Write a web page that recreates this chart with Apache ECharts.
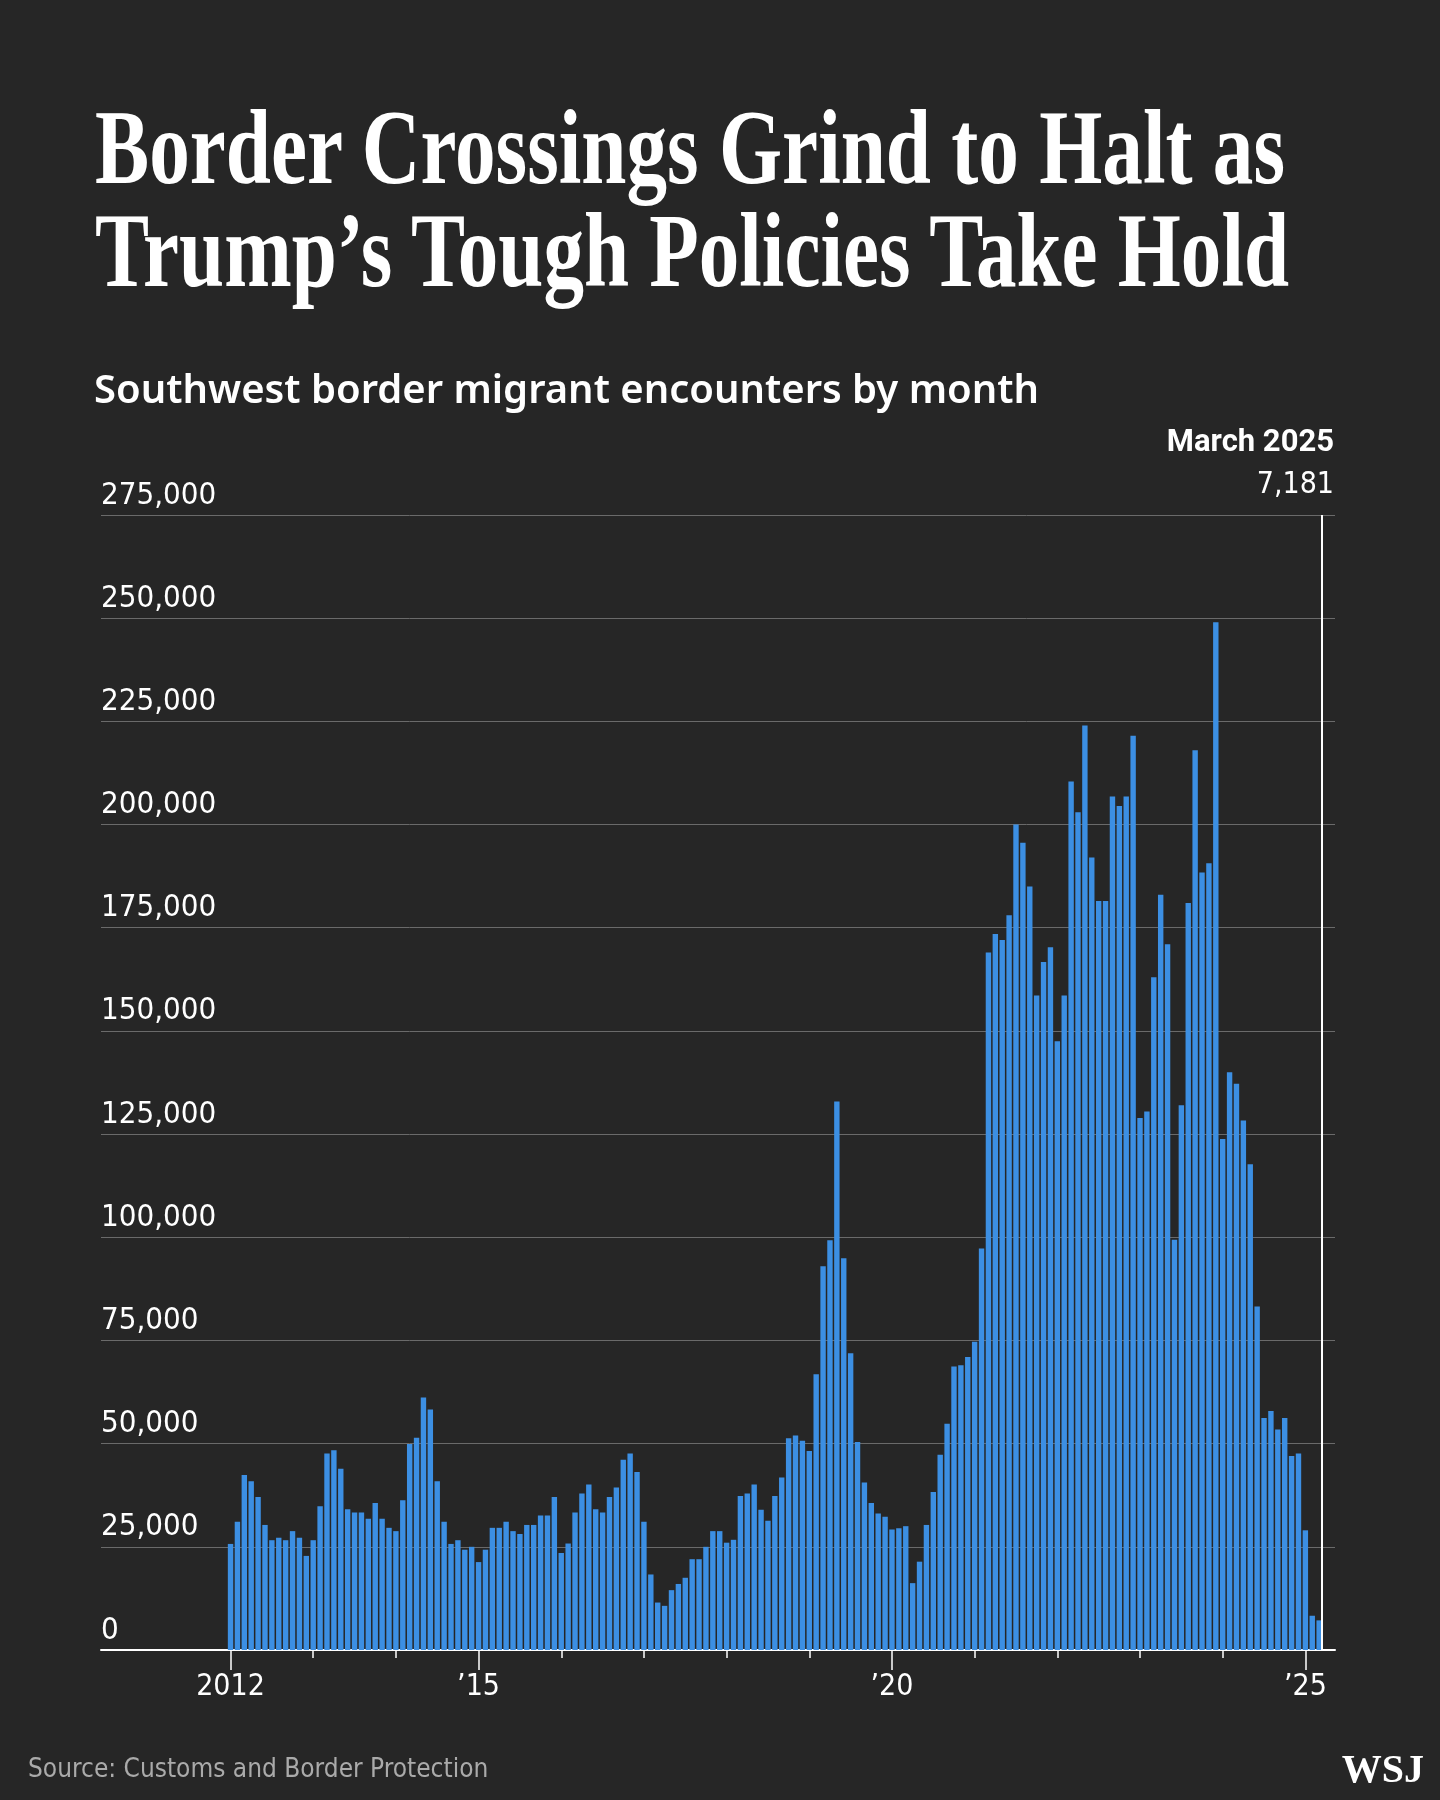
<!DOCTYPE html>
<html><head><meta charset="utf-8">
<script src="https://cdn.jsdelivr.net/npm/echarts@6/dist/echarts.min.js"></script>
<style>
html,body{margin:0;padding:0;background:#262626;}
#wrap{position:relative;width:1440px;height:1800px;background:#262626;overflow:hidden;}
.t{position:absolute;left:95px;color:#fff;font-family:"Liberation Serif","DejaVu Serif",serif;font-weight:bold;font-size:106px;line-height:1;white-space:nowrap;transform-origin:0 0;}
#sub{position:absolute;left:94px;top:360px;color:#fff;font-family:"Noto Sans",sans-serif;font-weight:600;font-size:40px;white-space:nowrap;}
#chart{position:absolute;left:0;top:0;width:1440px;height:1800px;}
</style></head><body>
<div id="wrap">
<div id="chart"></div>
<div class="t" id="t1" style="top:95px">Border Crossings Grind to Halt as</div>
<div class="t" id="t2" style="top:198px">Trump’s Tough Policies Take Hold</div>
<div id="sub">Southwest border migrant encounters by month</div>
</div>
<script>
// Monthly values (thousands), Jan 2012 .. Mar 2025
const values2012 = [25.7,31.1,42.4,40.9,37.1,30.3,26.6,27.2,26.6,28.8,27.2,22.8];
const values2013 = [26.6,34.8,47.6,48.4,43.9,34.1,33.3,33.3,31.8,35.6,31.8,29.6];
const values2014 = [28.8,36.3,49.9,51.4,61.2,58.3,40.9,31.1,25.7,26.6,24.3,25.0];
const values2015 = [21.3,24.3,29.6,29.6,31.1,28.8,28.1,30.3,30.3,32.6,32.6,37.1];
const values2016 = [23.5,25.8,33.3,37.9,40.1,34.1,33.3,37.1,39.4,46.1,47.6,43.1];
const values2017 = [31.1,18.3,11.5,10.7,14.5,16.0,17.5,22.0,22.0,25.0,28.8,28.8];
const values2018 = [26.0,26.7,37.3,37.9,40.1,34.0,31.3,37.3,41.8,51.3,52.0,50.7];
const values2019 = [48.2,66.8,93.0,99.3,132.9,94.9,71.9,50.4,40.6,35.6,33.1,32.3];
const values2020 = [29.2,29.5,30.0,16.2,21.4,30.3,38.3,47.3,54.8,68.7,69.0,71.0];
const values2021 = [74.7,97.3,169.0,173.5,172.0,178.0,200.0,195.6,185.0,158.6,166.7,170.3];
const values2022 = [147.5,158.6,210.4,203.0,224.0,192.0,181.5,181.5,206.8,204.5,206.8,221.5];
const values2023 = [128.9,130.5,163.0,183.0,171.0,99.4,132.0,181.0,218.0,188.4,190.6,249.0];
const values2024 = [123.8,140.0,137.2,128.3,117.7,83.2,56.2,57.9,53.4,56.2,47.0,47.6];
const values2025 = [29.0,8.3,7.181];
const xLabelYears = {0:'2012',36:'’15',96:'’20',156:'’25'};

const all = [].concat(values2012,values2013,values2014,values2015,values2016,values2017,values2018,values2019,values2020,values2021,values2022,values2023,values2024,values2025);
const data = all.map((v,i)=>[i, Math.round(v*1000)]);
const yearTicks = []; for(let m=0;m<=156;m+=12) yearTicks.push(m);
const lastIdx = all.length-1;

['t1','t2'].forEach((id,k)=>{const el=document.getElementById(id);const w=el.getBoundingClientRect().width;const target=k?1194:1190;el.style.transform='scaleX('+(target/w)+')';});

const chart = echarts.init(document.getElementById('chart'));
const lf = '"DejaVu Sans Condensed","Liberation Sans Narrow",sans-serif';
chart.setOption({
  backgroundColor:'#262626',
  animation:false,
  grid:{left:101,right:105,top:515,bottom:150},
  xAxis:[{
    type:'value',min:-18.8,max:160.3,
    axisLine:{show:true,lineStyle:{color:'#fff',width:2}},
    splitLine:{show:false},
    axisTick:{show:true,customValues:yearTicks,length:8,lineStyle:{color:'#fff',width:1.5}},
    axisLabel:{show:true,customValues:Object.keys(xLabelYears).map(Number),formatter:v=>xLabelYears[v]||'',color:'#fff',fontFamily:lf,fontSize:30,margin:22}
  },{
    type:'value',min:-18.8,max:160.3,position:'bottom',
    axisLine:{show:false},splitLine:{show:false},
    axisTick:{show:true,customValues:Object.keys(xLabelYears).map(Number),length:20,lineStyle:{color:'#fff',width:1.5}},
    axisLabel:{show:false}
  }],
  yAxis:{
    type:'value',min:0,max:275000,interval:25000,
    axisLine:{show:false},axisTick:{show:false},
    splitLine:{lineStyle:{color:'#6a6a6a',width:1}},
    axisLabel:{inside:true,margin:0,verticalAlign:'bottom',padding:[0,0,4,0],color:'#fff',fontFamily:lf,fontSize:31,
      formatter:v=>v.toLocaleString('en-US')}
  },
  series:[{
    type:'bar',data:data,barWidth:5.4,itemStyle:{color:'#3c8fe3'},z:2,
    markLine:{symbol:['none','none'],silent:true,animation:false,label:{show:false},lineStyle:{color:'#fff',width:2,type:'solid'},
      data:[{xAxis:lastIdx+0.4}]}
  }],
  graphic:[
    {type:'text',right:106,top:428,style:{text:'March 2025',fill:'#fff',font:'bold 31px "Roboto",sans-serif',textAlign:'right'}},
    {type:'text',right:106,top:470,style:{text:'7,181',fill:'#fff',font:'30px '+lf,textAlign:'right'}},
    {type:'text',left:28,top:1757,style:{text:'Source: Customs and Border Protection',fill:'#aaaaaa',font:'26px '+lf}},
    {type:'text',right:16,top:1752,style:{text:'WSJ',fill:'#fff',font:'bold 40px "Liberation Serif",serif'}}
  ]
});
</script>
</body></html>
